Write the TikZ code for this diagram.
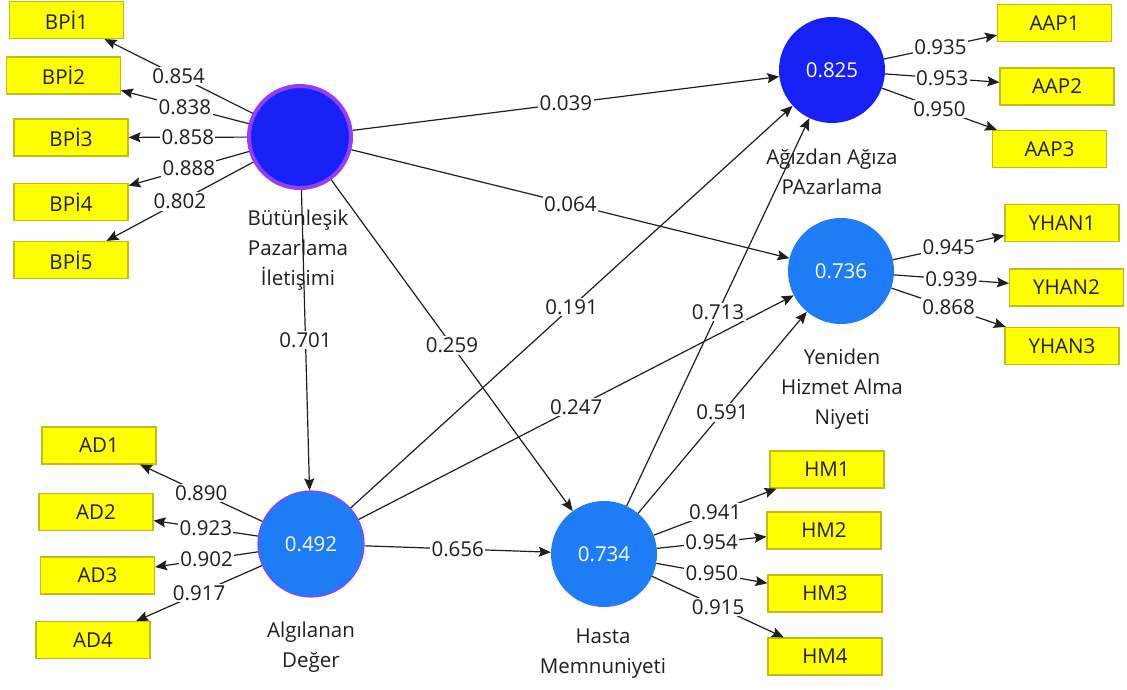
\documentclass[tikz,border=0pt]{standalone}
\usepackage{fontspec}
\setmainfont{Open Sans}
\usetikzlibrary{arrows.meta}
\definecolor{lvdark}{RGB}{22,34,245}
\definecolor{lvlight}{RGB}{30,125,246}
\definecolor{lvring}{RGB}{150,60,250}
\definecolor{indfill}{RGB}{255,255,0}
\definecolor{indline}{RGB}{190,190,20}
\definecolor{ink}{RGB}{30,30,30}
\tikzset{
  every node/.style={font=\fontsize{20.5}{30}\selectfont, text=ink},
  ind/.style={rectangle, fill=indfill, draw=indline, line width=1.2pt,
    minimum width=114pt, minimum height=37pt, inner sep=0pt},
  lv/.style={circle, minimum size=106pt, inner sep=0pt, text=white},
  darklv/.style={lv, fill=lvdark},
  lightlv/.style={lv, fill=lvlight},
  lvname/.style={align=center, inner sep=0pt},
  lab/.style={fill=white, inner sep=1.5pt},
  arr/.style={draw=ink, line width=1.2pt, -{Stealth[length=12pt,width=10pt,inset=2pt]}}
}
\begin{document}
\begin{tikzpicture}[x=1pt,y=-1pt]
\useasboundingbox (0,0) rectangle (1127,689);

% latent variables
\node[darklv, draw=lvring, line width=4pt, minimum size=102pt] (bpi) at (300,137) {};
\node[darklv] (aap) at (832,70) {0.825};
\node[lightlv] (yhan) at (841,271) {0.736};
\node[lightlv, draw=lvring, line width=1.2pt] (ad) at (311,544) {0.492};
\node[lightlv] (hm) at (604,554) {0.734};

% construct names
\node[lvname] (bpiL) at (298,250) {Bütünleşik\\Pazarlama\\İletişimi};
\node[lvname] (aapL) at (832,172) {Ağızdan Ağıza\\PAzarlama};
\node[lvname] (yhanL) at (842,389) {Yeniden\\Hizmet Alma\\Niyeti};
\node[lvname] (adL) at (311,647) {Algılanan\\Değer};
\node[lvname] (hmL) at (603,654) {Hasta\\Memnuniyeti};

% indicators
\node[ind] (bpi1) at (66.5,20) {BPİ1};
\node[ind] (bpi2) at (63.5,75.5) {BPİ2};
\node[ind] (bpi3) at (71,137.5) {BPİ3};
\node[ind] (bpi4) at (71,202) {BPİ4};
\node[ind] (bpi5) at (71,260) {BPİ5};

\node[ind] (aap1) at (1054.5,23) {AAP1};
\node[ind] (aap2) at (1057,86.5) {AAP2};
\node[ind] (aap3) at (1049.5,149) {AAP3};

\node[ind] (yhan1) at (1062,223) {YHAN1};
\node[ind] (yhan2) at (1066.5,287.5) {YHAN2};
\node[ind] (yhan3) at (1062,346) {YHAN3};

\node[ind] (ad1) at (99,445.5) {AD1};
\node[ind] (ad2) at (96,512) {AD2};
\node[ind] (ad3) at (97.5,575.5) {AD3};
\node[ind] (ad4) at (93,640) {AD4};

\node[ind] (hm1) at (827,469.5) {HM1};
\node[ind] (hm2) at (824,530.5) {HM2};
\node[ind] (hm3) at (825,593.5) {HM3};
\node[ind] (hm4) at (825,656.5) {HM4};

% outer loadings
\draw[arr] (bpi) -- node[lab]{0.854} (bpi1);
\draw[arr] (bpi) -- node[lab]{0.838} (bpi2);
\draw[arr] (bpi) -- node[lab]{0.858} (bpi3);
\draw[arr] (bpi) -- node[lab]{0.888} (bpi4);
\draw[arr] (bpi) -- node[lab]{0.802} (bpi5);

\draw[arr] (aap) -- node[lab]{0.935} (aap1);
\draw[arr] (aap) -- node[lab]{0.953} (aap2);
\draw[arr] (aap) -- node[lab]{0.950} (aap3);

\draw[arr] (yhan) -- node[lab]{0.945} (yhan1);
\draw[arr] (yhan) -- node[lab]{0.939} (yhan2);
\draw[arr] (yhan) -- node[lab]{0.868} (yhan3);

\draw[arr] (ad) -- node[lab]{0.890} (ad1);
\draw[arr] (ad) -- node[lab]{0.923} (ad2);
\draw[arr] (ad) -- node[lab]{0.902} (ad3);
\draw[arr] (ad) -- node[lab]{0.917} (ad4);

\draw[arr] (hm) -- node[lab]{0.941} (hm1);
\draw[arr] (hm) -- node[lab]{0.954} (hm2);
\draw[arr] (hm) -- node[lab]{0.950} (hm3);
\draw[arr] (hm) -- node[lab]{0.915} (hm4);

% path coefficients
\draw[arr] (bpi) -- node[lab]{0.039} (aap);
\draw[arr] (bpi) -- node[lab]{0.064} (yhan);
\draw[arr] (bpi) -- node[lab]{0.701} (ad);
\draw[arr] (bpi) -- node[lab]{0.259} (hm);
\draw[arr] (ad) -- node[lab]{0.191} (aap);
\draw[arr] (ad) -- node[lab]{0.247} (yhan);
\draw[arr] (ad) -- node[lab]{0.656} (hm);
\draw[arr] (hm) -- node[lab]{0.713} (aap);
\draw[arr] (hm) -- node[lab]{0.591} (yhan);
\end{tikzpicture}
\end{document}
